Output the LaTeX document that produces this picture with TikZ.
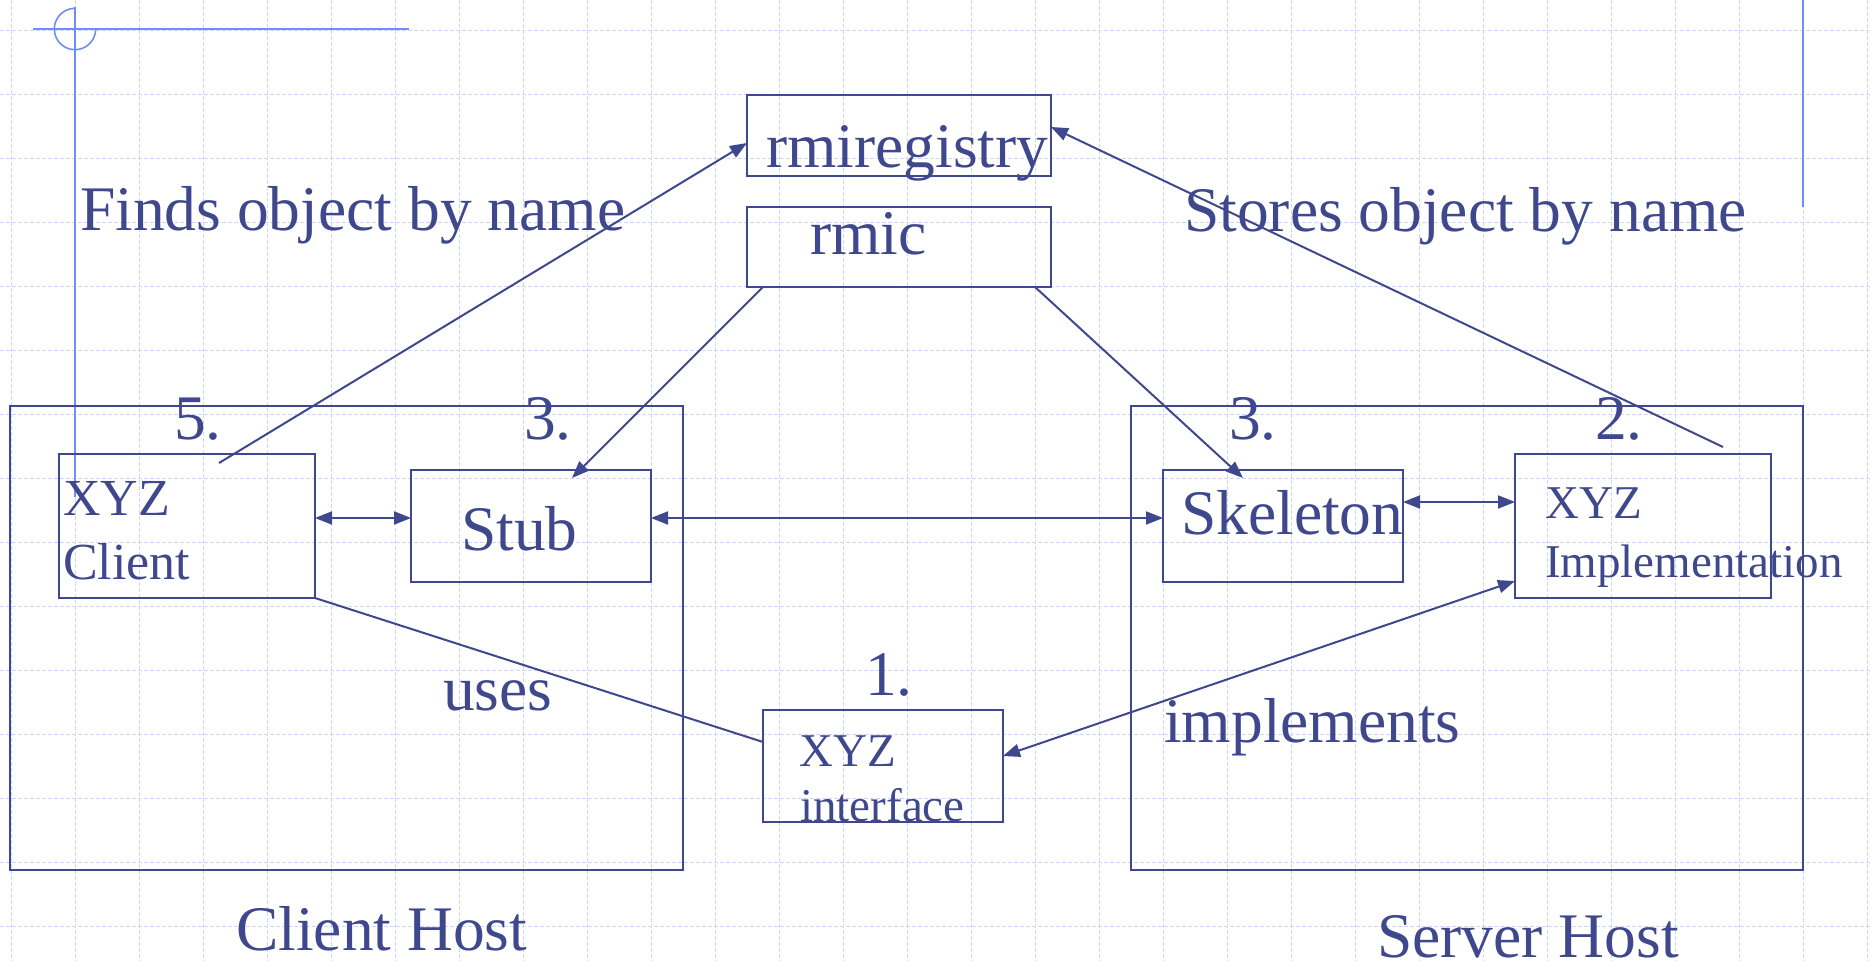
\documentclass[tikz,border=0pt]{standalone}
\usepackage{fontspec}
\setmainfont{Liberation Serif}
\usetikzlibrary{arrows.meta,calc}
\definecolor{ink}{RGB}{63,72,140}
\definecolor{decor}{RGB}{112,140,245}
\definecolor{gridc}{RGB}{205,215,248}
\tikzset{
  box/.style={draw=ink, line width=2pt, rectangle, inner sep=0pt, outer sep=0pt, anchor=north west},
  txt/.style={text=ink, inner sep=0pt, anchor=base west, font=\fontsize{63.5}{70}\selectfont},
  smalltxt/.style={txt, font=\fontsize{52}{58}\selectfont},
  tinytxt/.style={txt, font=\fontsize{47}{52}\selectfont},
  conn/.style={draw=ink, line width=2pt},
  tip/.style={conn, -{Triangle[length=17pt,width=13pt]}},
  dtip/.style={conn, {Triangle[length=17pt,width=13pt]}-{Triangle[length=17pt,width=13pt]}},
  gridline/.style={draw=gridc, line width=1pt, dash pattern=on 4pt off 2pt},
  decoline/.style={draw=decor, line width=1.6pt}
}
\begin{document}
\begin{tikzpicture}[x=1pt,y=-1pt]
\useasboundingbox (0,0) rectangle (1872,961);
% grid
\foreach \k in {0,...,29} { \draw[gridline] (11.5+64*\k,0) -- (11.5+64*\k,961); }
\foreach \k in {0,...,14} { \draw[gridline] (0,30.5+64*\k) -- (1872,30.5+64*\k); }
% decoration
\draw[decoline] (33,29) -- (409,29);
\draw[decoline] (75,7) -- (75,497);
\draw[decoline] (75,8.3) arc[start angle=90,end angle=360,radius=20.7pt];
\draw[decoline] (1803,0) -- (1803,207);
% boxes
\node[box, minimum width=304pt, minimum height=80.5pt] (rmireg) at (747,95) {};
\node[box, minimum width=304pt, minimum height=80pt] (rmic) at (747,207) {};
\node[box, minimum width=673pt, minimum height=464pt] (clienthost) at (10,406) {};
\node[box, minimum width=672pt, minimum height=464pt] (serverhost) at (1131,406) {};
\node[box, minimum width=256pt, minimum height=144pt] (client) at (59,454) {};
\node[box, minimum width=240pt, minimum height=112pt] (stub) at (411,470) {};
\node[box, minimum width=240pt, minimum height=112pt] (skel) at (1163,470) {};
\node[box, minimum width=256pt, minimum height=144pt] (impl) at (1515,454) {};
\node[box, minimum width=240pt, minimum height=112pt] (iface) at (763,710) {};
% texts
\node[txt] (trmireg) at (766,167) {rmiregistry};
\node[txt] (trmic) at (810,254) {rmic};
\node[txt] (tfinds) at (80,230) {Finds object by name};
\node[txt] (tstores) at (1184,231) {Stores object by name};
\node[txt] (n5) at (174,439) {5.};
\node[txt] (n3a) at (524,439) {3.};
\node[txt] (n3b) at (1229,439) {3.};
\node[txt] (n2) at (1595,439) {2.};
\node[txt] (n1) at (865,695) {1.};
\node[smalltxt] (txyzc) at (63,515) {XYZ};
\node[smalltxt] (tclient) at (63,579) {Client};
\node[txt] (tstub) at (461,550) {Stub};
\node[txt] (tskel) at (1181,534) {Skeleton};
\node[tinytxt] (txyzi) at (1545,518) {XYZ};
\node[tinytxt] (timpl) at (1545,577) {Implementation};
\node[tinytxt] (txyzf) at (799,766) {XYZ};
\node[tinytxt] (tiface) at (800,821) {interface};
\node[txt] (tuses) at (443,710) {uses};
\node[txt] (timpls) at (1164,742) {implements};
\node[txt] (tch) at (236,950) {Client Host};
\node[txt] (tsh) at (1377,957) {Server Host};
% connectors
\draw[tip] ($(client.north west)+(160,9)$) -- ($(rmireg.north west)+(0,48)$);
\draw[tip] ($(impl.north east)+(-48,-7)$) -- ($(rmireg.north east)+(0,32)$);
\draw[tip] ($(rmic.south west)+(16,0)$) -- ($(stub.north west)+(161,8)$);
\draw[tip] ($(rmic.south east)+(-16,0)$) -- ($(skel.north west)+(80,8)$);
\draw[dtip] ($(client.north east)+(0,64)$) -- ($(stub.north west)+(0,48)$);
\draw[dtip] ($(stub.north east)+(0,48)$) -- ($(skel.north west)+(0,48)$);
\draw[dtip] ($(skel.north east)+(0,32)$) -- ($(impl.north west)+(0,48)$);
\draw[conn] (client.south east) -- ($(iface.north west)+(0,32)$);
\draw[dtip] ($(iface.north east)+(0,46)$) -- ($(impl.south west)+(0,-17)$);
\end{tikzpicture}
\end{document}
